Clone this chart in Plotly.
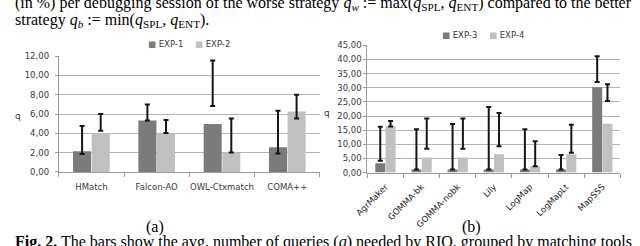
import plotly.graph_objects as go

# ---- data: chart (a) ----
cats_a = ["HMatch", "Falcon-AO", "OWL-Ctxmatch", "COMA++"]
exp1 = [2.15, 5.33, 4.97, 2.55]
exp1_lo = [1.86, 5.33, 6.83, 1.92]
exp1_hi = [4.75, 6.99, 11.54, 6.34]
exp2 = [4.0, 4.0, 2.02, 6.27]
exp2_lo = [4.27, 4.03, 2.02, 5.54]
exp2_hi = [6.0, 5.37, 5.54, 7.99]

# ---- data: chart (b) ----
cats_b = ["AgrMaker", "GOMMA-bk", "GOMMA-nobk", "Lily", "LogMap", "LogMapLt", "MapSSS"]
exp3 = [3.29, 1.1, 1.1, 1.1, 1.1, 1.1, 30.2]
exp3_lo = [4.2, 1.1, 1.1, 1.1, 1.1, 1.1, 32.0]
exp3_hi = [16.2, 15.3, 17.2, 23.2, 15.3, 6.2, 41.1]
exp4 = [16.4, 5.3, 5.3, 6.45, 2.27, 6.45, 17.3]
exp4_lo = [16.3, 8.4, 8.4, 9.3, 2.27, 7.0, 25.3]
exp4_hi = [18.2, 19.1, 19.1, 21.1, 11.1, 16.95, 31.2]

DARK = "#7b7b7b"
LIGHT = "#c0c0c0"
W, H = 640, 246
FONT = "DejaVu Sans"
TXT = "#3a3a3a"

fig = go.Figure()


def add_series(cats, vals, lo, hi, name, color, group, xa, ya):
    fig.add_trace(go.Bar(x=cats, y=vals, name=name, marker_color=color,
                         marker_line_width=0, offsetgroup=group, showlegend=False,
                         xaxis=xa, yaxis=ya, hoverinfo="skip"))
    mid = [(a + b) / 2 for a, b in zip(lo, hi)]
    half = [(b - a) / 2 for a, b in zip(lo, hi)]
    fig.add_trace(go.Bar(x=cats, y=mid, marker_color="rgba(0,0,0,0)",
                         marker_line_width=0, offsetgroup=group, showlegend=False,
                         error_y=dict(type="data", array=half, symmetric=True,
                                      color="#151515", thickness=2, width=2.5),
                         xaxis=xa, yaxis=ya, hoverinfo="skip"))


add_series(cats_a, exp1, exp1_lo, exp1_hi, "EXP-1", DARK, "a1", "x", "y")
add_series(cats_a, exp2, exp2_lo, exp2_hi, "EXP-2", LIGHT, "a2", "x", "y")
add_series(cats_b, exp3, exp3_lo, exp3_hi, "EXP-3", DARK, "b1", "x2", "y2")
add_series(cats_b, exp4, exp4_lo, exp4_hi, "EXP-4", LIGHT, "b2", "x2", "y2")


def px_x(p):
    return p / W


def px_y(p):
    return (H - p) / H


def axis_common(font_color=TXT):
    return dict(showline=True, linecolor="#9a9a9a", linewidth=1,
                ticks="outside", tickcolor="#9a9a9a", tickwidth=1,
                tickfont=dict(family=FONT, size=8.5, color=font_color))


fig.update_layout(
    width=W, height=H,
    margin=dict(l=0, r=0, t=0, b=0),
    paper_bgcolor="white", plot_bgcolor="white",
    barmode="group", bargap=0.43, bargroupgap=0.03,
    separators=",.",
    showlegend=False,
    xaxis=dict(domain=[px_x(46.7), px_x(313.3)], anchor="y", tickson="boundaries",
               ticklen=4, tickangle=0, ticklabelstandoff=7, **axis_common()),
    yaxis=dict(domain=[px_y(174), px_y(53.3)], anchor="x", range=[0, 12], dtick=2,
               tickformat=".2f", showgrid=True, gridcolor="#b3b3b3", gridwidth=1,
               ticklen=3, ticklabelstandoff=4, zeroline=False, **axis_common()),
    xaxis2=dict(domain=[px_x(361.7), px_x(620)], anchor="y2", tickson="boundaries",
                ticklen=4, tickangle=-45, ticklabelstandoff=5, **axis_common("#222222")),
    yaxis2=dict(domain=[px_y(174.7), px_y(42)], anchor="x2", range=[0, 45], dtick=5,
                tickformat=".2f", showgrid=True, gridcolor="#b3b3b3", gridwidth=1,
                ticklen=3, zeroline=False, **axis_common()),
)

SERIF = "Liberation Serif"
line1 = ("(in %) per debugging session of the worse strategy <i>q<sub>w</sub></i> := "
         "max(<i>q</i><sub>SPL</sub>, <i>q</i><sub>ENT</sub>) compared to the better")
ann = [
    dict(text=line1, x=0, y=px_y(-2), xanchor="left", yanchor="middle",
         font=dict(family=SERIF, size=16, color="black")),
    dict(text="strategy <i>q<sub>b</sub></i> := min(<i>q</i><sub>SPL</sub>, <i>q</i><sub>ENT</sub>).",
         x=0, y=px_y(16), xanchor="left", yanchor="middle", font=dict(family=SERIF, size=16, color="black")),
    dict(text="(a)", x=px_x(145), y=px_y(231), xanchor="center", yanchor="middle",
         font=dict(family=SERIF, size=16, color="black")),
    dict(text="(b)", x=px_x(468), y=px_y(231), xanchor="center", yanchor="middle",
         font=dict(family=SERIF, size=16, color="black")),
    dict(text="<b>Fig. 2.</b> The bars show the avg. number of queries (<i>q</i>) needed by RIO, grouped by matching tools",
         x=0, y=px_y(247), xanchor="left", yanchor="middle", font=dict(family=SERIF, size=16, color="black")),
    dict(text="q", x=px_x(5), y=px_y(116), xanchor="center", yanchor="middle",
         font=dict(family=FONT, size=9, color=TXT)),
    dict(text="q", x=px_x(321), y=px_y(113), xanchor="center", yanchor="middle",
         font=dict(family=FONT, size=9, color=TXT)),
]
# legend entries
for name, color, xp, yp in [("EXP-1", DARK, 136, 41), ("EXP-2", LIGHT, 184, 41),
                            ("EXP-3", DARK, 436, 31), ("EXP-4", LIGHT, 484, 31)]:
    ann.append(dict(text=f"<span style='color:{color}'>■</span> {name}", x=px_x(xp), y=px_y(yp),
                    xanchor="left", yanchor="middle", font=dict(family=FONT, size=8.5, color=TXT)))
for a in ann:
    a.update(xref="paper", yref="paper", showarrow=False)
fig.update_layout(annotations=ann)

fig.write_html("out.html", config={"displayModeBar": False},
               post_script="document.body.style.margin='0';document.body.style.overflow='hidden';")
